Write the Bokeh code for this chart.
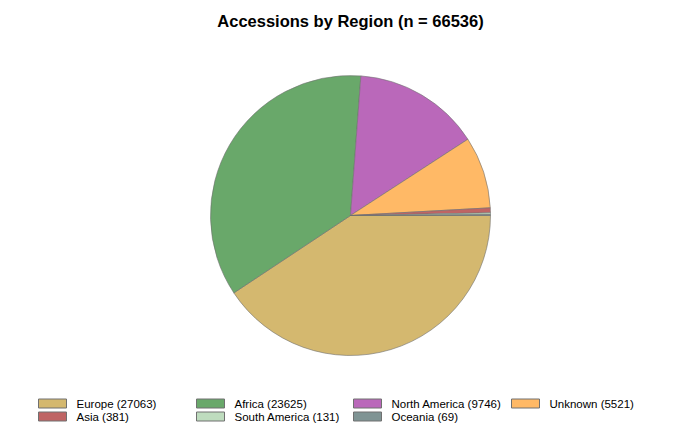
import numpy as np
from bokeh.plotting import figure
from bokeh.models import ColumnDataSource, Range1d
from bokeh.core.properties import value
from bokeh.embed import file_html
from bokeh.resources import INLINE

regions = ["Europe", "Africa", "North America", "Unknown", "Asia", "South America", "Oceania"]
counts = [27063, 23625, 9746, 5521, 381, 131, 69]
colors = ["#D4B86F", "#69A86A", "#BA68BA", "#FFB966", "#BF6464", "#BEDCBE", "#7F9494"]
legend_order = ["Europe", "Africa", "North America", "Unknown", "Asia", "South America", "Oceania"]

total = sum(counts)
W, H = 700, 435
p = figure(width=W, height=H, output_backend="svg", toolbar_location=None,
           x_range=Range1d(0, W), y_range=Range1d(0, H), min_border=0)
p.axis.visible = False
p.grid.visible = False
p.outline_line_color = None

frac = np.array(counts) / total
ends = np.cumsum(frac) * 2 * np.pi
starts = ends - frac * 2 * np.pi
src = ColumnDataSource(dict(start=-ends, end=-starts, color=colors))
cx, cy, r = 350, H - 215, 140
p.wedge(x=cx, y=cy, radius=r, start_angle="start", end_angle="end", direction="anticlock",
        fill_color="color", line_color="#707070", line_width=0.6, source=src)

p.text(x=[350], y=[H - 20], text=[f"Accessions by Region (n = {total})"],
       text_font=value("Liberation Sans"), text_font_style="bold", text_font_size="16.5px",
       text_align="center", text_baseline="middle", text_color="#000000")

col_x = [38, 196, 353, 511]
row_y = [H - 403, H - 416]
lx, ly, lt, lc = [], [], [], []
for i, name in enumerate(legend_order):
    k = regions.index(name)
    c, rr = i % 4, i // 4
    lx.append(col_x[c]); ly.append(row_y[rr])
    lt.append(f"{name} ({counts[k]})"); lc.append(colors[k])
p.rect(x=[x + 14 for x in lx], y=ly, width=28, height=9, fill_color=lc,
       line_color="#707070", line_width=1)
p.text(x=[x + 38 for x in lx], y=ly, text=lt, text_font=value("Liberation Sans"),
       text_font_size="11.5px", text_baseline="middle", text_align="left", text_color="#000000")

open("out.html", "w").write(file_html(p, INLINE))
